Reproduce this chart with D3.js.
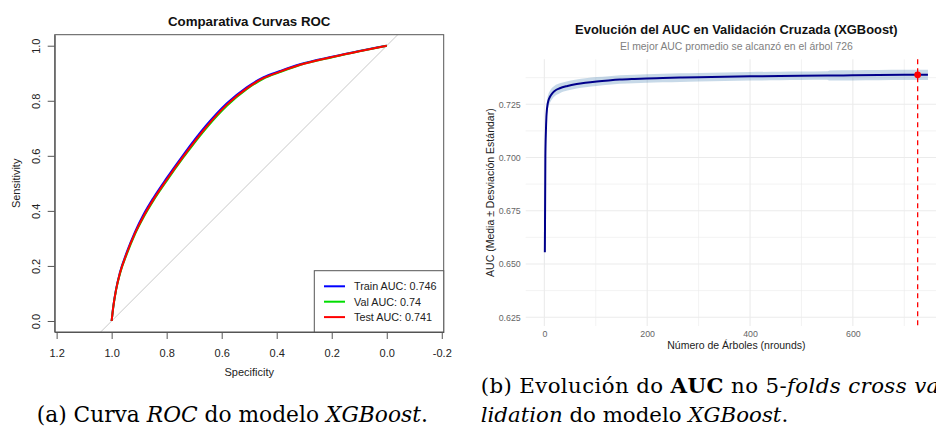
<!DOCTYPE html>
<html><head><meta charset="utf-8">
<script src="https://cdn.jsdelivr.net/npm/d3@7"></script>
<style>body{margin:0;background:#fff}svg{display:block}</style>
</head><body>
<svg id="c" width="936" height="426"></svg>
<script>
// ---------- Data: ROC curves (left) ----------
const rocSpecificity = [1.000, 0.994, 0.984, 0.970, 0.945, 0.915, 0.885, 0.849, 0.800, 0.740, 0.655, 0.582, 0.509, 0.449, 0.388, 0.315, 0.194, 0.100, 0.000];
const rocSensTrain   = [0.000, 0.053, 0.115, 0.176, 0.250, 0.324, 0.385, 0.446, 0.519, 0.603, 0.712, 0.790, 0.849, 0.885, 0.908, 0.933, 0.961, 0.981, 1.000];
const rocSensVal     = [0.000, 0.051, 0.112, 0.171, 0.243, 0.316, 0.375, 0.436, 0.509, 0.593, 0.702, 0.781, 0.842, 0.880, 0.904, 0.930, 0.959, 0.980, 1.000];
const rocSensTest    = [0.000, 0.052, 0.113, 0.173, 0.246, 0.319, 0.379, 0.440, 0.513, 0.597, 0.706, 0.785, 0.845, 0.882, 0.906, 0.931, 0.960, 0.980, 1.000];
const rocLabels = ["Train AUC: 0.746", "Val AUC: 0.74", "Test AUC: 0.741"];
const rocXTicks = [1.2, 1.0, 0.8, 0.6, 0.4, 0.2, 0.0, -0.2];
const rocYTicks = [0.0, 0.2, 0.4, 0.6, 0.8, 1.0];

// ---------- Data: CV AUC evolution (right) ----------
const cvIter = [1, 2, 3, 4, 5, 6, 8, 11, 15, 20, 30, 45, 63, 80, 102, 125, 147, 175, 199, 230, 264, 300, 350, 400, 458, 500, 550, 555, 600, 650, 700, 726, 746];
const cvMean = [0.6555, 0.7000, 0.7120, 0.7190, 0.7225, 0.7245, 0.7268, 0.7285, 0.7300, 0.7312, 0.7325, 0.7336, 0.7345, 0.7351, 0.7357, 0.7362, 0.7366, 0.7369, 0.7371, 0.7373, 0.7375, 0.7377, 0.7379, 0.7381, 0.7383, 0.7384, 0.7385, 0.7385, 0.7386, 0.7387, 0.7388, 0.7388, 0.7388];
const cvSd   = [0.0119, 0.0060, 0.0045, 0.0040, 0.0035, 0.0033, 0.0030, 0.0028, 0.0027, 0.0025, 0.0023, 0.0022, 0.0021, 0.0021, 0.0021, 0.0020, 0.0020, 0.0020, 0.0020, 0.0020, 0.0020, 0.0020, 0.0020, 0.0020, 0.0020, 0.0020, 0.0020, 0.0024, 0.0024, 0.0024, 0.0024, 0.0024, 0.0024];
const bestIter = 726;
const bestAuc = 0.7388;
const cvXTicks = [0, 200, 400, 600];
const cvXMinor = [100, 300, 500, 700];
const cvYTicks = [0.625, 0.650, 0.675, 0.700, 0.725];
const cvYMinor = [0.6375, 0.6625, 0.6875, 0.7125, 0.7375];
const cvXDomain = [-36.25, 783.25];
const cvYDomain = [0.6209, 0.7461];

const svg = d3.select("#c");
svg.append("rect").attr("width", 936).attr("height", 426).attr("fill", "#fff");
const SANS = "Liberation Sans, Arial, Helvetica, sans-serif";

// ================= LEFT: ROC =================
const L = {left: 54.7, right: 443.7, top: 34.7, bottom: 332};
const xR = d3.scaleLinear().domain([1.207, -0.207]).range([L.left, L.right]);
const yR = d3.scaleLinear().domain([-0.04, 1.04]).range([L.bottom, L.top]);

svg.append("clipPath").attr("id", "clipL").append("rect")
  .attr("x", L.left).attr("y", L.top).attr("width", L.right - L.left).attr("height", L.bottom - L.top);

const gL = svg.append("g");
// diagonal
gL.append("line").attr("clip-path", "url(#clipL)")
  .attr("x1", xR(1.3)).attr("y1", yR(-0.3)).attr("x2", xR(-0.3)).attr("y2", yR(1.3))
  .attr("stroke", "#c8c8c8").attr("stroke-width", 1);

const rocLine = d3.line().x(d => xR(d[0])).y(d => yR(d[1])).curve(d3.curveMonotoneX);
const rocSeries = [
  {sens: rocSensTrain, color: "#0000ff"},
  {sens: rocSensVal, color: "#00dd00"},
  {sens: rocSensTest, color: "#ff0000"}
];
rocSeries.forEach(s => {
  gL.append("path").attr("clip-path", "url(#clipL)")
    .attr("d", rocLine(rocSpecificity.map((v, i) => [v, s.sens[i]])))
    .attr("fill", "none").attr("stroke", s.color).attr("stroke-width", 2);
});

// box
gL.append("rect").attr("x", L.left).attr("y", L.top).attr("width", L.right - L.left).attr("height", L.bottom - L.top)
  .attr("fill", "none").attr("stroke", "#555").attr("stroke-width", 1);

// axes
const axB = gL.append("g").attr("transform", `translate(0,${L.bottom})`)
  .call(d3.axisBottom(xR).tickValues(rocXTicks).tickSize(7).tickSizeOuter(0).tickPadding(6).tickFormat(d => d.toFixed(1)));
axB.select(".domain").attr("stroke", "#555");
axB.selectAll(".tick line").attr("stroke", "#555");
axB.selectAll("text").attr("font-family", SANS).attr("font-size", 11).attr("fill", "#222").attr("y", 0).attr("dy", 0)
  .attr("transform", "translate(0,25)");

const axLft = gL.append("g").attr("transform", `translate(${L.left},0)`)
  .call(d3.axisLeft(yR).tickValues(rocYTicks).tickSize(7).tickSizeOuter(0).tickFormat(d => d.toFixed(1)));
axLft.select(".domain").attr("stroke", "#555");
axLft.selectAll(".tick line").attr("stroke", "#555");
axLft.selectAll("text").attr("font-family", SANS).attr("font-size", 11).attr("fill", "#222")
  .attr("x", 0).attr("y", -15.2).attr("dy", 0).attr("text-anchor", "middle").attr("transform", "rotate(-90)");

// titles
gL.append("text").attr("x", (L.left + L.right) / 2).attr("y", 25.5).attr("text-anchor", "middle")
  .attr("font-family", SANS).attr("font-weight", "bold").attr("font-size", 13.3).attr("fill", "#111")
  .text("Comparativa Curvas ROC");
gL.append("text").attr("x", (L.left + L.right) / 2).attr("y", 376).attr("text-anchor", "middle")
  .attr("font-family", SANS).attr("font-size", 11).attr("fill", "#222").text("Specificity");
gL.append("text").attr("transform", `translate(19.5,${(L.top + L.bottom) / 2}) rotate(-90)`).attr("text-anchor", "middle")
  .attr("font-family", SANS).attr("font-size", 11).attr("fill", "#222").text("Sensitivity");

// legend
const lg = gL.append("g");
lg.append("rect").attr("x", 314.3).attr("y", 270.7).attr("width", L.right - 314.3).attr("height", L.bottom - 270.7)
  .attr("fill", "#fff").attr("stroke", "#555").attr("stroke-width", 1);
rocLabels.forEach((lab, i) => {
  const yy = 286.3 + i * 15.4;
  lg.append("line").attr("x1", 324).attr("x2", 345).attr("y1", yy).attr("y2", yy)
    .attr("stroke", rocSeries[i].color).attr("stroke-width", 2);
  lg.append("text").attr("x", 354).attr("y", yy).attr("dy", "0.36em")
    .attr("font-family", SANS).attr("font-size", 10.8).attr("fill", "#222").text(lab);
});

// ================= RIGHT: CV AUC =================
const R = {left: 525.7, right: 947.1, top: 59.3, bottom: 326};
const xC = d3.scaleLinear().domain(cvXDomain).range([R.left, R.right]);
const yC = d3.scaleLinear().domain(cvYDomain).range([R.bottom, R.top]);
const gR = svg.append("g");

svg.append("clipPath").attr("id", "clipR").append("rect")
  .attr("x", R.left).attr("y", R.top).attr("width", R.right - R.left).attr("height", R.bottom - R.top);

// grid
const GRID = "#ebebeb";
cvXMinor.forEach(v => gR.append("line").attr("x1", xC(v)).attr("x2", xC(v)).attr("y1", R.top).attr("y2", R.bottom).attr("stroke", GRID).attr("stroke-width", 0.6));
cvYMinor.forEach(v => gR.append("line").attr("y1", yC(v)).attr("y2", yC(v)).attr("x1", R.left).attr("x2", R.right).attr("stroke", GRID).attr("stroke-width", 0.6));
cvXTicks.forEach(v => gR.append("line").attr("x1", xC(v)).attr("x2", xC(v)).attr("y1", R.top).attr("y2", R.bottom).attr("stroke", GRID).attr("stroke-width", 1.1));
cvYTicks.forEach(v => gR.append("line").attr("y1", yC(v)).attr("y2", yC(v)).attr("x1", R.left).attr("x2", R.right).attr("stroke", GRID).attr("stroke-width", 1.1));

const cvData = cvIter.map((it, i) => ({it, m: cvMean[i], sd: cvSd[i]}));
const area = d3.area().x(d => xC(d.it)).y0(d => yC(d.m - d.sd)).y1(d => yC(d.m + d.sd)).curve(d3.curveMonotoneX);
gR.append("path").attr("clip-path", "url(#clipR)").attr("d", area(cvData))
  .attr("fill", "steelblue").attr("fill-opacity", 0.3);
const cvLine = d3.line().x(d => xC(d.it)).y(d => yC(d.m)).curve(d3.curveMonotoneX);
gR.append("path").attr("clip-path", "url(#clipR)").attr("d", cvLine(cvData))
  .attr("fill", "none").attr("stroke", "#00008b").attr("stroke-width", 2);

gR.append("line").attr("x1", xC(bestIter)).attr("x2", xC(bestIter)).attr("y1", R.top).attr("y2", R.bottom)
  .attr("stroke", "#ff0000").attr("stroke-width", 1.3).attr("stroke-dasharray", "5,4");
gR.append("circle").attr("cx", xC(bestIter)).attr("cy", yC(bestAuc)).attr("r", 3.4).attr("fill", "#ff0000");

// axes labels (no lines)
const axCY = gR.append("g").attr("transform", `translate(${R.left},0)`)
  .call(d3.axisLeft(yC).tickValues(cvYTicks).tickSize(0).tickPadding(5).tickFormat(d3.format(".3f")));
axCY.select(".domain").remove();
axCY.selectAll("text").attr("font-family", SANS).attr("font-size", 8.8).attr("fill", "#666");
const axCX = gR.append("g").attr("transform", `translate(0,${R.bottom})`)
  .call(d3.axisBottom(xC).tickValues(cvXTicks).tickSize(0).tickPadding(4.3).tickFormat(d3.format("d")));
axCX.select(".domain").remove();
axCX.selectAll("text").attr("font-family", SANS).attr("font-size", 8.8).attr("fill", "#666");

const cMid = (R.left + R.right) / 2;
gR.append("text").attr("x", cMid).attr("y", 33.7).attr("text-anchor", "middle")
  .attr("font-family", SANS).attr("font-weight", "bold").attr("font-size", 12.9).attr("fill", "#111")
  .text("Evolución del AUC en Validación Cruzada (XGBoost)");
gR.append("text").attr("x", cMid).attr("y", 50).attr("text-anchor", "middle")
  .attr("font-family", SANS).attr("font-size", 10.4).attr("fill", "#808080")
  .text("El mejor AUC promedio se alcanzó en el árbol " + bestIter);
gR.append("text").attr("x", cMid).attr("y", 349.2).attr("text-anchor", "middle")
  .attr("font-family", SANS).attr("font-size", 10.5).attr("fill", "#222")
  .text("Número de Árboles (nrounds)");
gR.append("text").attr("transform", `translate(493.5,${(R.top + R.bottom) / 2}) rotate(-90)`).attr("text-anchor", "middle")
  .attr("font-family", SANS).attr("font-size", 10.5).attr("fill", "#222")
  .text("AUC (Media ± Desviación Estándar)");

// ================= Captions =================
const SERIF = "DejaVu Serif, Liberation Serif, serif";
function caption(x, y, parts) {
  const t = svg.append("text").attr("x", x).attr("y", y).attr("font-family", SERIF).attr("font-size", 20).attr("fill", "#000");
  parts.forEach(p => {
    const s = t.append("tspan").text(p.t);
    if (p.i) s.attr("font-style", "italic");
    if (p.b) s.attr("font-weight", "bold");
  });
  return t;
}
function fit(t, w) {
  const len = t.node().getComputedTextLength();
  const fs = 20 * w / len;
  t.attr("font-size", fs);
  return fs;
}
const capA = caption(36.7, 421.7, [{t: "(a) Curva "}, {t: "ROC", i: 1}, {t: " do modelo "}, {t: "XGBoost", i: 1}, {t: "."}]);
fit(capA, 391.3);
const capB2 = caption(480.7, 421.7, [{t: "lidation", i: 1}, {t: " do modelo "}, {t: "XGBoost", i: 1}, {t: "."}]);
const fsB = fit(capB2, 307.6);
const capB1 = caption(480.7, 393.3, [{t: "(b) Evolución do "}, {t: "AUC", b: 1}, {t: " no 5-"}, {t: "folds cross va", i: 1}]);
capB1.attr("font-size", fsB);
{
  const len1 = capB1.node().getComputedTextLength();
  const n = capB1.text().length;
  capB1.attr("letter-spacing", ((459 - len1) / n).toFixed(3));
  capB1.append("tspan").attr("font-style", "italic").text("-");
}
</script>
</body></html>
